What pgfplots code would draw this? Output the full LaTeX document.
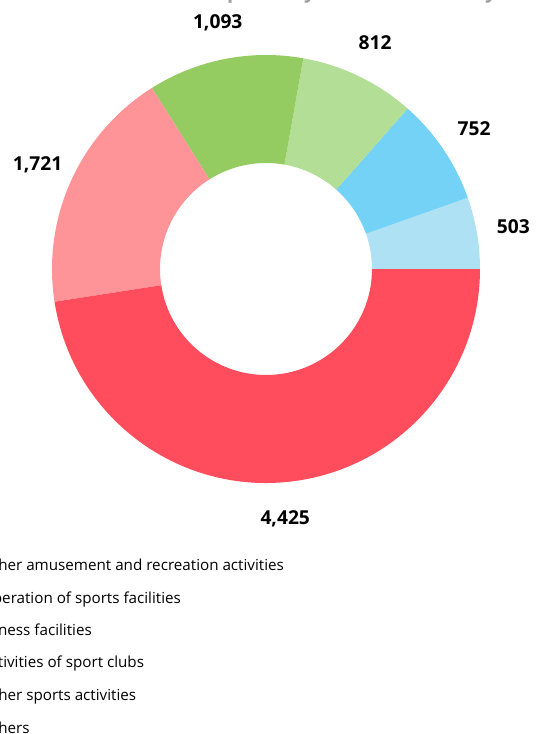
\documentclass[border=0pt]{standalone}
\usepackage{fontspec}
\setmainfont{Open Sans}
\usepackage{pgfplots}
\pgfplotsset{compat=1.18}
\definecolor{cLB}{RGB}{174,225,243}
\definecolor{cSky}{RGB}{116,210,247}
\definecolor{cLG}{RGB}{178,222,150}
\definecolor{cGreen}{RGB}{148,204,98}
\definecolor{cPink}{RGB}{255,148,152}
\definecolor{cRed}{RGB}{255,77,94}

% one ring sector plus its value label
\newcommand\donutsector[5]{%
  \fill[#3, shift={(axis cs:266,465)}] (#1:107pt)
    arc[start angle=#1, end angle=#2, radius=107pt] -- (#2:53pt)
    arc[start angle=#2, end angle=#1, radius=53pt] -- cycle;
  \node[font=\bfseries\fontsize{9.6}{11}\selectfont]
    at ([shift={(#4:125.5pt)}]axis cs:266,465)
    {\pgfmathprintnumber[assume math mode=true, 1000 sep={,}]{#5}};
}

\begin{document}
\begin{tikzpicture}
\useasboundingbox (0,0) rectangle (268.5pt,367pt);
\begin{scope}
\clip (0,0) rectangle (268.5pt,367pt);
\begin{axis}[
  at={(0,0)}, anchor=south west,
  x=0.5pt, y=0.5pt,
  xmin=0, xmax=537, ymin=0, ymax=734,
  hide axis, clip=false,
]
\pgfmathsetmacro\total{503+752+812+1093+1721+4425}
\xdef\cum{0}
\foreach \v/\c in {503/cLB, 752/cSky, 812/cLG, 1093/cGreen, 1721/cPink, 4425/cRed}{
  \pgfmathsetmacro\nxt{\cum+\v/\total*360}
  \pgfmathsetmacro\mid{(\cum+\nxt)/2}
  \edef\tmp{\noexpand\donutsector{\cum}{\nxt}{\c}{\mid}{\v}}
  \tmp
  \xdef\cum{\nxt}
}
\node[anchor=base, text=gray!75, font=\bfseries\fontsize{10}{12}\selectfont]
  at (axis cs:278,735.5) {Number of enterprises by economic activity};
\begin{scope}[every node/.style={anchor=base west, font=\fontsize{7.6}{9}\selectfont}]
\node at (axis cs:-26,163) {Other amusement and recreation activities};
\node at (axis cs:-26,130.5) {Operation of sports facilities};
\node at (axis cs:-26,98) {Fitness facilities};
\node at (axis cs:-26,66) {Activities of sport clubs};
\node at (axis cs:-26,33.5) {Other sports activities};
\node at (axis cs:-26,1) {Others};
\end{scope}
\end{axis}
\end{scope}
\end{tikzpicture}
\end{document}
